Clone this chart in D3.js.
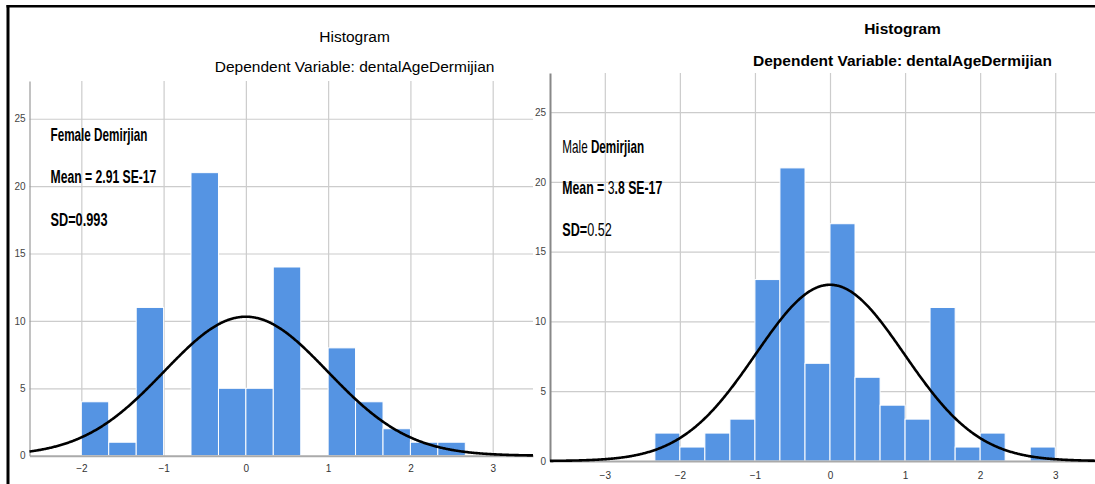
<!DOCTYPE html>
<html>
<head>
<meta charset="utf-8">
<script src="https://cdn.jsdelivr.net/npm/d3@7"></script>
<style>
  body { margin: 0; background: #fff; }
  svg { display: block; font-family: "Liberation Sans", Arial, sans-serif; }
</style>
</head>
<body>
<div id="chart"></div>
<script>
const femaleBinEdges = [-2, -1.667, -1.333, -1, -0.667, -0.333, 0, 0.333, 0.667, 1, 1.333, 1.667, 2, 2.333, 2.667];
const femaleCounts   = [4, 1, 11, 0, 21, 5, 5, 14, 0, 8, 4, 2, 1, 1];

const maleBinEdges = [-2.333, -2, -1.667, -1.333, -1, -0.667, -0.333, 0, 0.333, 0.667, 1, 1.333, 1.667, 2, 2.333, 2.667, 3];
const maleCounts   = [2, 1, 2, 3, 13, 21, 7, 17, 6, 4, 3, 11, 1, 2, 0, 1];

const femaleXTicks = [-2, -1, 0, 1, 2, 3];
const maleXTicks   = [-3, -2, -1, 0, 1, 2, 3];
const yTicks       = [0, 5, 10, 15, 20, 25];

// Fitted normal curve parameters (N, mean, sd)
const femaleFit = [77, 0, 0.993];
const maleFit   = [94, 0, 0.99];

const titleText = "Histogram";
const subtitleText = "Dependent Variable: dentalAgeDermijian";

const width = 1095, height = 484;
const barColor = "#5594e3";

const svg = d3.select("#chart")
    .append("svg")
    .attr("width", width)
    .attr("height", height);

// Draw one SPSS style histogram panel
function drawPanel(p) {
    const x = d3.scaleLinear().domain(p.xDomain).range(p.xRange);
    const y = d3.scaleLinear().domain([0, 27.8]).range(p.yRange);
    const g = svg.append("g");
    const plotH = p.yRange[0] - p.yRange[1];
    const plotW = p.xRange[1] - p.xRange[0];

    // vertical grid
    g.append("g")
        .attr("transform", `translate(0,${p.yRange[0]})`)
        .call(d3.axisBottom(x).tickValues(p.xTicks).tickSize(-plotH).tickFormat(""))
        .call(a => a.select(".domain").remove())
        .selectAll("line").attr("stroke", "#cccccc").attr("stroke-width", 1.2);

    // horizontal grid
    g.append("g")
        .attr("transform", `translate(${p.xRange[0]},0)`)
        .call(d3.axisLeft(y).tickValues(yTicks.slice(1)).tickSize(-plotW).tickFormat(""))
        .call(a => a.select(".domain").remove())
        .selectAll("line").attr("stroke", "#cccccc").attr("stroke-width", 1.2);

    // bars
    g.selectAll("rect.bar")
        .data(p.counts)
        .enter()
        .append("rect")
        .attr("class", "bar")
        .attr("x", (d, i) => x(p.edges[i]))
        .attr("width", (d, i) => x(p.edges[i + 1]) - x(p.edges[i]))
        .attr("y", d => y(d))
        .attr("height", d => y(0) - y(d))
        .attr("fill", barColor)
        .attr("stroke", "#ffffff")
        .attr("stroke-width", 1);

    // axes
    const xAxis = g.append("g")
        .attr("transform", `translate(0,${p.yRange[0]})`)
        .call(d3.axisBottom(x).tickValues(p.xTicks).tickFormat(d3.format("d")).tickSize(0).tickPadding(p.xPad));
    xAxis.select(".domain").attr("stroke", "#aaaaaa").attr("stroke-width", 2);
    xAxis.selectAll("text").attr("font-size", 10).attr("fill", "#333")
        .attr("font-family", "'Liberation Sans', Arial, sans-serif");

    const yAxis = g.append("g")
        .attr("transform", `translate(${p.xRange[0]},0)`)
        .call(d3.axisLeft(y).tickValues(yTicks).tickFormat(d3.format("d")).tickSize(0).tickPadding(4));
    yAxis.select(".domain").attr("stroke", p.yAxisColor).attr("stroke-width", p.yAxisWidth);
    yAxis.selectAll("text").attr("font-size", 10).attr("fill", "#444")
        .attr("font-family", "'Liberation Sans', Arial, sans-serif");

    // normal curve
    const [n, mu, sd] = p.fit;
    const binW = 1 / 3;
    const pts = d3.range(p.xDomain[0], p.xDomain[1] + 0.001, 0.01).map(v => {
        const z = (v - mu) / sd;
        return [v, n * binW / (sd * Math.sqrt(2 * Math.PI)) * Math.exp(-0.5 * z * z)];
    });
    g.append("path")
        .datum(pts)
        .attr("fill", "none")
        .attr("stroke", "#000")
        .attr("stroke-width", 2.6)
        .attr("d", d3.line().x(d => x(d[0])).y(d => y(d[1])));

    // titles
    g.append("text")
        .attr("x", p.titleX).attr("y", p.titleY)
        .attr("text-anchor", "middle")
        .attr("font-size", 15.5)
        .attr("font-weight", p.titleWeight)
        .text(titleText);
    g.append("text")
        .attr("x", p.titleX).attr("y", p.subY)
        .attr("text-anchor", "middle")
        .attr("font-size", 15.5)
        .attr("font-weight", p.titleWeight)
        .text(subtitleText);

    // annotations (condensed text)
    p.notes.forEach(nt => {
        const t = g.append("text")
            .attr("font-size", 17.5)
            .attr("fill", "#000");
        nt.parts.forEach(part => {
            t.append("tspan")
                .attr("font-weight", part[1] ? "bold" : "normal")
                .text(part[0]);
        });
        const natural = t.node().getComputedTextLength();
        t.attr("transform", `translate(${nt.x},${nt.y}) scale(${nt.w / natural},1)`);
    });
}

drawPanel({
    edges: femaleBinEdges,
    counts: femaleCounts,
    xTicks: femaleXTicks,
    xDomain: [-2.63, 3.49],
    xRange: [29.5, 533],
    yRange: [455.7, 81],
    xPad: 9,
    yAxisColor: "#999999",
    yAxisWidth: 1.2,
    fit: femaleFit,
    titleX: 354.6, titleY: 42, subY: 71.5,
    titleWeight: "normal",
    notes: [
        {x: 50.5, y: 141, w: 97, parts: [["Female Demirjian", true]]},
        {x: 50.5, y: 183, w: 106, parts: [["Mean = 2.91 SE-17", true]]},
        {x: 50.5, y: 225.5, w: 57, parts: [["SD=0.993", true]]}
    ]
});

drawPanel({
    edges: maleBinEdges,
    counts: maleCounts,
    xTicks: maleXTicks,
    xDomain: [-3.73, 3.53],
    xRange: [550, 1095],
    yRange: [461, 73],
    xPad: 10.5,
    yAxisColor: "#888888",
    yAxisWidth: 2,
    fit: maleFit,
    titleX: 902.5, titleY: 34, subY: 65.5,
    titleWeight: "bold",
    notes: [
        {x: 562.3, y: 152.5, w: 82, parts: [["Male ", false], ["Demirjian", true]]},
        {x: 562.3, y: 194.3, w: 100, parts: [["Mean = ", true], ["3", false], [".8 SE-17", true]]},
        {x: 562.3, y: 235.7, w: 49.4, parts: [["SD=", true], ["0.52", false]]}
    ]
});

// black frame lines (top and left)
svg.append("line")
    .attr("x1", 6.5).attr("x2", width).attr("y1", 6.2).attr("y2", 6.2)
    .attr("stroke", "#000").attr("stroke-width", 2.6);
svg.append("line")
    .attr("x1", 8).attr("x2", 8).attr("y1", 5).attr("y2", height)
    .attr("stroke", "#000").attr("stroke-width", 3);
</script>
</body>
</html>
